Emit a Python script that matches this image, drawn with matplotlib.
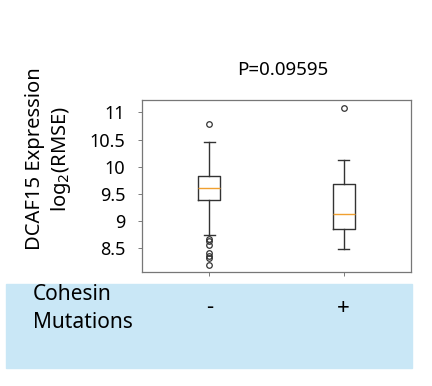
import matplotlib.pyplot as plt
from matplotlib.patches import Rectangle

# box statistics
groups = ['-', '+']
q1 = [9.39, 8.86]
med = [9.61, 9.13]
q3 = [9.83, 9.69]
whislo = [8.74, 8.49]
whishi = [10.46, 10.13]
fliers = [[10.78, 8.68, 8.63, 8.56, 8.41, 8.36, 8.32, 8.19], [11.09]]
p_value = 'P=0.09595'
yticks = [8.5, 9, 9.5, 10, 10.5, 11]

plt.rcParams['font.family'] = ['Noto Sans', 'DejaVu Sans']

fig = plt.figure(figsize=(4.32, 3.86), dpi=100)
ax = fig.add_axes([142/432, 1 - 272/386, 269/432, 172/386])

stats = []
for i in range(len(groups)):
    stats.append({'med': med[i], 'q1': q1[i], 'q3': q3[i],
                  'whislo': whislo[i], 'whishi': whishi[i], 'fliers': fliers[i]})

ax.bxp(stats, positions=[1, 2], widths=0.16,
       boxprops=dict(color='#333333', lw=1.0),
       whiskerprops=dict(color='#333333', lw=1.0),
       capprops=dict(color='#333333', lw=1.0),
       medianprops=dict(color='#f0a030', lw=1.0),
       flierprops=dict(marker='o', markerfacecolor='none', markeredgecolor='#333333',
                       markersize=4, markeredgewidth=0.9))

ax.set_xlim(0.5, 2.5)
ax.set_ylim(8.065, 11.23)
ax.set_yticks(yticks)
ax.set_yticklabels(['8.5', '9', '9.5', '10', '10.5', '11'], fontsize=13)
ax.set_xticks([1, 2])
ax.set_xticklabels(['', ''])
ax.tick_params(axis='y', length=3, pad=9, color='#666666', width=0.6)
ax.tick_params(axis='x', length=3, color='#666666', width=0.6)
for s in ax.spines.values():
    s.set_color('#777777')
    s.set_linewidth(0.9)

# p-value above the plot
fig.text(283/432, 1 - 70/386, p_value, fontsize=13.5, ha='center', va='center')

fig.text(35/432, 1 - 159/386, 'DCAF15 Expression', rotation=90, fontsize=14.5,
         ha='center', va='center')
fig.text(61/432, 1 - 159/386, 'log$_2$(RMSE)', rotation=90, fontsize=14.5,
         ha='center', va='center')

# blue band underneath with group labels
fig.patches.append(Rectangle((6/432, 1 - 368/386), 406/432, 84/386,
                             transform=fig.transFigure, color='#c9e7f6', zorder=0))
fig.text(33/432, 1 - 294/386, 'Cohesin', fontsize=15, ha='left', va='center')
fig.text(33/432, 1 - 322/386, 'Mutations', fontsize=15, ha='left', va='center')
for i, g in enumerate(groups):
    x = ax.transData.transform((i + 1, 0))[0]
    fig.text(x / fig.dpi / 4.32, 1 - 308/386, g, fontsize=16, ha='center', va='center')

fig.savefig('out.png', dpi=100)
